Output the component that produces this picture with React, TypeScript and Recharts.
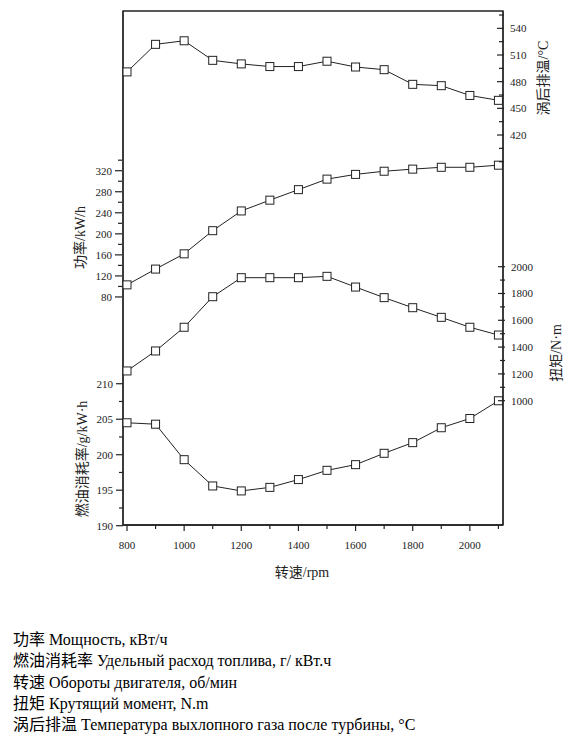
import { LineChart, Line, XAxis, YAxis, ReferenceArea } from "recharts"

// engine speed, rpm
const rpm = [800, 900, 1000, 1100, 1200, 1300, 1400, 1500, 1600, 1700, 1800, 1900, 2000, 2100]
// 涡后排温, °C
const exhaustTemp = [491, 522, 526, 504, 500, 497, 497, 503, 496.5, 493.5, 477, 475.5, 464.5, 459]
// 功率, kW
const power = [103, 133, 162, 206, 243.5, 264, 284, 304, 313, 319, 323, 326.5, 326.5, 330.5]
// 扭矩, N·m
const torque = [1222, 1371, 1548, 1776, 1918, 1918, 1918, 1928, 1848, 1769, 1694, 1622, 1548, 1490]
// 燃油消耗率, g/kW·h
const bsfc = [204.5, 204.3, 199.3, 195.6, 194.9, 195.4, 196.5, 197.8, 198.6, 200.2, 201.7, 203.8, 205.1, 207.6]

const xTicks = [800, 900, 1000, 1100, 1200, 1300, 1400, 1500, 1600, 1700, 1800, 1900, 2000, 2100]
const xLabels = [800, 1000, 1200, 1400, 1600, 1800, 2000]
const tempTicks = [390, 405, 420, 435, 450, 465, 480, 495, 510, 525, 540, 555]
const tempLabels = [420, 450, 480, 510, 540]
const powerTicks = [80, 100, 120, 140, 160, 180, 200, 220, 240, 260, 280, 300, 320, 340]
const powerLabels = [80, 120, 160, 200, 240, 280, 320]
const torqueTicks = [1000, 1100, 1200, 1300, 1400, 1500, 1600, 1700, 1800, 1900, 2000]
const torqueLabels = [1000, 1200, 1400, 1600, 1800, 2000]
const bsfcTicks = [190, 192.5, 195, 197.5, 200, 202.5, 205, 207.5, 210]
const bsfcLabels = [190, 195, 200, 205, 210]

const legendLines = [
  ["功率", "Мощность, кВт/ч"],
  ["燃油消耗率", "Удельный расход топлива, г/ кВт.ч"],
  ["转速", "Обороты двигателя, об/мин"],
  ["扭矩", "Крутящий момент, N.m"],
  ["涡后排温", "Температура выхлопного газа после турбины, °C"],
]

const data = rpm.map((r, i) => ({
  rpm: r,
  temp: exhaustTemp[i],
  power: power[i],
  torque: torque[i],
  bsfc: bsfc[i],
}))

const INK = "#222"
const SERIF = '"Liberation Serif", "Noto Sans CJK SC", serif'

function makeTick(side: "left" | "right" | "bottom", labels: number[]) {
  return (props: any) => {
    const { x, y, payload } = props
    const major = labels.includes(payload.value)
    if (side === "bottom") {
      return (
        <g>
          <line x1={x} y1={y} x2={x} y2={y + (major ? 6 : 4)} stroke={INK} strokeWidth={1.2} />
          {major && (
            <text x={x} y={y + 20} textAnchor="middle" dominantBaseline="central" fontFamily={SERIF} fontSize={11} fill={INK}>
              {payload.value}
            </text>
          )}
        </g>
      )
    }
    if (side === "left") {
      return (
        <g>
          <line x1={x - (major ? 7 : 4)} y1={y} x2={x} y2={y} stroke={INK} strokeWidth={1.2} />
          {major && (
            <text x={x - 10} y={y} textAnchor="end" dominantBaseline="central" fontFamily={SERIF} fontSize={11} fill={INK}>
              {payload.value}
            </text>
          )}
        </g>
      )
    }
    return (
      <g>
        <line x1={x - (major ? 6 : 4)} y1={y} x2={x + 1} y2={y} stroke={INK} strokeWidth={1.2} />
        {major && (
          <text x={x + 7} y={y} textAnchor="start" dominantBaseline="central" fontFamily={SERIF} fontSize={11} fill={INK}>
            {payload.value}
          </text>
        )}
      </g>
    )
  }
}

function axisTitle(text: string, dx: number, dy: number, angle = -90) {
  return (props: any) => {
    const vb = props.viewBox
    const cx = vb.x + dx
    const cy = vb.y + dy
    return (
      <text
        x={cx}
        y={cy}
        transform={angle ? `rotate(${angle} ${cx} ${cy})` : undefined}
        textAnchor="middle"
        dominantBaseline="central"
        fontFamily={SERIF}
        fontSize={14}
        fill={INK}
      >
        {text}
      </text>
    )
  }
}

function SquareDot(props: any) {
  const { cx, cy, index } = props
  if (cx == null || cy == null) return null
  return <rect key={index} x={cx - 4} y={cy - 4} width={8} height={8} fill="#fff" stroke={INK} strokeWidth={1} />
}

export default function App() {
  return (
    <div>
      <div style={{ width: 557, height: 590 }}>
        <LineChart width={557} height={590} data={data} margin={{ top: 3, right: 60, left: 113, bottom: 13 }}>
          <XAxis
            dataKey="rpm"
            type="number"
            domain={[786, 2116]}
            ticks={xTicks}
            interval={0}
            height={60}
            axisLine={{ stroke: INK, strokeWidth: 1.3 }}
            tickLine={false}
            tickSize={0}
            tickMargin={0}
            tick={makeTick("bottom", xLabels)}
            label={axisTitle("转速/rpm", 179, 47, 0)}
          />
          <YAxis
            yAxisId="bsfc"
            orientation="left"
            width={1}
            type="number"
            domain={[190.1, 262.5]}
            ticks={bsfcTicks}
            interval={0}
            axisLine={{ stroke: INK, strokeWidth: 1.3 }}
            tickLine={false}
            tickSize={0}
            tickMargin={0}
            tick={makeTick("left", bsfcLabels)}
            label={axisTitle("燃油消耗率/g/kW·h", -40, 448)}
          />
          <YAxis
            yAxisId="power"
            orientation="left"
            width={1}
            type="number"
            domain={[-353.5, 623.6]}
            ticks={powerTicks}
            interval={0}
            axisLine={false}
            tickLine={false}
            tickSize={0}
            tickMargin={0}
            tick={makeTick("left", powerLabels)}
            label={axisTitle("功率/kW/h", -41, 226.5)}
          />
          <YAxis
            yAxisId="temp"
            orientation="right"
            width={1}
            type="number"
            domain={[-18.7, 559.5]}
            ticks={tempTicks}
            interval={0}
            axisLine={{ stroke: INK, strokeWidth: 1.3 }}
            tickLine={false}
            tickSize={0}
            tickMargin={0}
            tick={makeTick("right", tempLabels)}
            label={axisTitle("涡后排温/°C", 40, 67)}
          />
          <YAxis
            yAxisId="torque"
            orientation="right"
            width={1}
            type="number"
            domain={[72.4, 3908]}
            ticks={torqueTicks}
            interval={0}
            axisLine={false}
            tickLine={false}
            tickSize={0}
            tickMargin={0}
            tick={makeTick("right", torqueLabels)}
            label={axisTitle("扭矩/N·m", 52, 342)}
          />
          <ReferenceArea
            yAxisId="bsfc"
            x1={786}
            x2={2116}
            y1={190.1}
            y2={262.5}
            fill="none"
            stroke={INK}
            strokeWidth={1.3}
            ifOverflow="visible"
          />
          <Line yAxisId="temp" dataKey="temp" stroke={INK} strokeWidth={1} dot={SquareDot} isAnimationActive={false} />
          <Line yAxisId="power" dataKey="power" stroke={INK} strokeWidth={1} dot={SquareDot} isAnimationActive={false} />
          <Line yAxisId="torque" dataKey="torque" stroke={INK} strokeWidth={1} dot={SquareDot} isAnimationActive={false} />
          <Line yAxisId="bsfc" dataKey="bsfc" stroke={INK} strokeWidth={1} dot={SquareDot} isAnimationActive={false} />
        </LineChart>
      </div>
      <div style={{ marginTop: 31, paddingLeft: 5, fontFamily: SERIF, fontSize: 16, lineHeight: "21.3px", color: "#000" }}>
        {legendLines.map(([zh, ru]) => (
          <div key={zh}>
            {zh} {ru}
          </div>
        ))}
      </div>
    </div>
  )
}
